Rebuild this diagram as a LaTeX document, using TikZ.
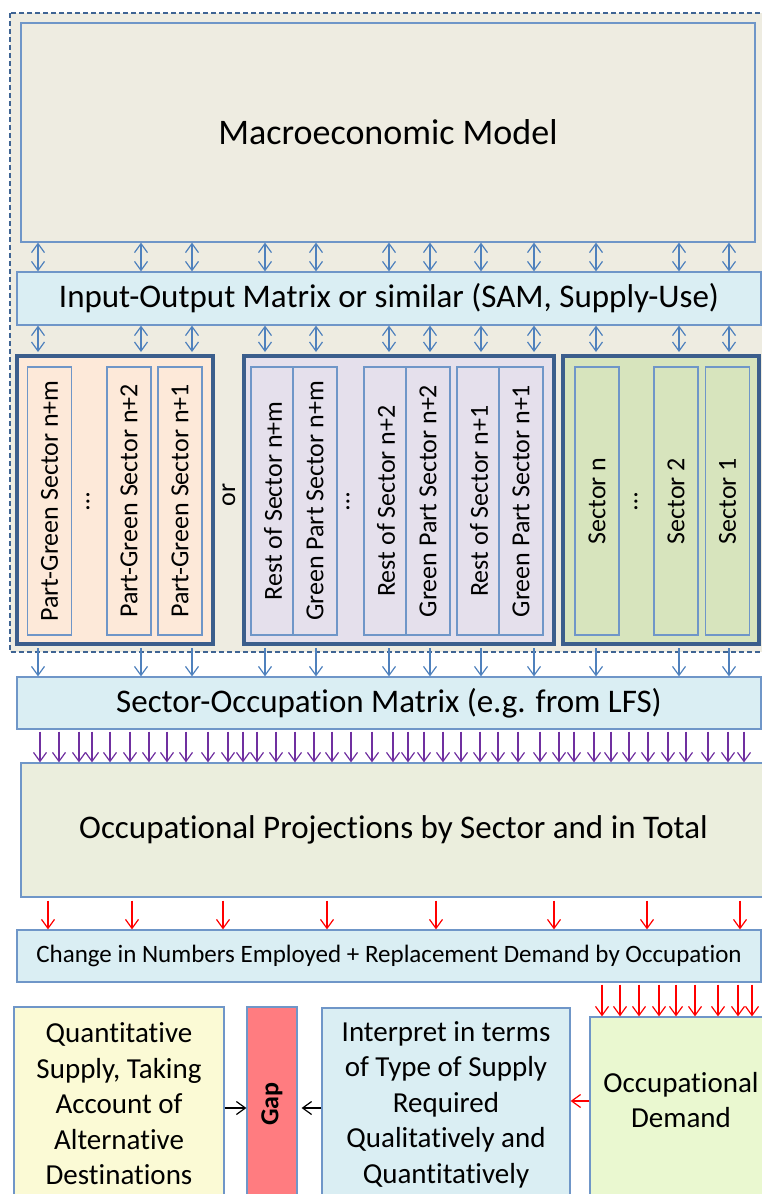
\documentclass[tikz,border=0pt]{standalone}
\usepackage{fontspec}
\setmainfont{Carlito}[Ligatures={NoCommon,NoRare,NoDiscretionary}]
\usetikzlibrary{arrows.meta}

\definecolor{framebg}{HTML}{EEECE1}
\definecolor{framedash}{HTML}{3F6493}
\definecolor{boxline}{HTML}{6F96C8}
\definecolor{groupline}{HTML}{3B5E8C}
\definecolor{iofill}{HTML}{DAEEF3}
\definecolor{peach}{HTML}{FDE9D9}
\definecolor{lavender}{HTML}{E5E0EC}
\definecolor{sage}{HTML}{D7E4BD}
\definecolor{projfill}{HTML}{EBEEDD}
\definecolor{quantfill}{HTML}{FBFAD5}
\definecolor{gapfill}{HTML}{FF7C80}
\definecolor{demandfill}{HTML}{EAF8D0}
\definecolor{arrowblue}{HTML}{4F81BD}
\definecolor{arrowpurple}{HTML}{7030A0}
\definecolor{arrowred}{HTML}{FF0000}

\tikzset{
  box/.style={draw=boxline, line width=1.2pt, inner sep=0pt, align=center},
  group/.style={draw=groupline, line width=4pt, inner sep=0pt},
  sectorcol/.style={box, rotate=90, minimum width=268, minimum height=44,
    font=\fontsize{26}{30}\selectfont},
  vdots/.style={rotate=90, inner sep=0pt, font=\fontsize{26}{30}\selectfont},
  bigtext/.style={font=\fontsize{33}{40}\selectfont},
  lowtext/.style={font=\fontsize{29}{35.5}\selectfont, align=center},
  blue arrow/.style={draw=arrowblue, line width=1.2pt},
  purple arrow/.style={draw=arrowpurple, line width=1.2pt, ->},
  red arrow/.style={draw=arrowred, line width=1.2pt, ->}
}

\begin{document}
\begin{tikzpicture}[x=1pt,y=-1pt,>={Straight Barb[length=9pt,width=13pt]}]
  \useasboundingbox (0,0) rectangle (762,1194);
  \clip (0,0) rectangle (762,1194);

  \draw[draw=framedash, fill=framebg, line width=2.4pt, dash pattern=on 5pt off 3pt]
    (10,13) rectangle (790,652);

  \node[box, fill=framebg, minimum width=734, minimum height=219,
    font=\fontsize{36}{42}\selectfont] (macro) at (388,132.5) {Macroeconomic Model};
  \node[box, fill=iofill, minimum width=744, minimum height=53, bigtext] (io)
    at (389,298.5) {Input-Output Matrix or similar (SAM, Supply-Use)};

  \node[group, fill=peach, minimum width=196, minimum height=288] (grpa) at (115,500) {};
  \node[group, fill=lavender, minimum width=310, minimum height=288] (grpb) at (399,500) {};
  \node[group, fill=sage, minimum width=196, minimum height=288] (grpc) at (661,500) {};

  \node[sectorcol, fill=peach] (pgm) at (49.5,501) {Part-Green Sector n+m};
  \node[vdots] (dotsa) at (88,502) {\ldots};
  \node[sectorcol, fill=peach] (pgtwo) at (129,501) {Part-Green Sector n+2};
  \node[sectorcol, fill=peach] (pgone) at (180,501) {Part-Green Sector n+1};

  \node[vdots] (or) at (229,495) {or};

  \node[sectorcol, fill=lavender] (restm) at (273,501) {Rest of Sector n+m};
  \node[sectorcol, fill=lavender] (greenm) at (315,501) {Green Part Sector n+m};
  \node[vdots] (dotsb) at (348,502) {\ldots};
  \node[sectorcol, fill=lavender] (resttwo) at (386,501) {Rest of Sector n+2};
  \node[sectorcol, fill=lavender] (greentwo) at (428,501) {Green Part Sector n+2};
  \node[sectorcol, fill=lavender] (restone) at (479,501) {Rest of Sector n+1};
  \node[sectorcol, fill=lavender] (greenone) at (521,501) {Green Part Sector n+1};

  \node[sectorcol, fill=sage] (secn) at (597,501) {Sector n};
  \node[vdots] (dotsc) at (636,502) {\ldots};
  \node[sectorcol, fill=sage] (sectwo) at (676,501) {Sector 2};
  \node[sectorcol, fill=sage] (secone) at (727.5,501) {Sector 1};

  \node[box, fill=iofill, minimum width=744, minimum height=52, bigtext] (socc)
    at (389,703) {Sector-Occupation Matrix (e.g. from LFS)};
  \node[box, fill=projfill, minimum width=745, minimum height=134, bigtext] (proj)
    at (393.5,830) {Occupational Projections by Sector and in Total};
  \node[box, fill=iofill, minimum width=744, minimum height=52,
    font=\fontsize{25}{30}\selectfont] (change)
    at (389,956) {Change in Numbers Employed + Replacement Demand by Occupation};

  \node[box, fill=quantfill, minimum width=210, minimum height=194, lowtext] (quant)
    at (119,1104) {Quantitative\\Supply, Taking\\Account of\\Alternative\\Destinations};
  \node[box, fill=gapfill, minimum width=194, minimum height=50, rotate=90,
    font=\fontsize{26}{30}\selectfont\bfseries] (gap) at (272,1104) {Gap};
  \node[box, fill=iofill, minimum width=248, minimum height=193, lowtext] (interp)
    at (446,1104.5) {Interpret in terms\\of Type of Supply\\Required\\Qualitatively and\\Quantitatively};
  \node[box, fill=demandfill, minimum width=182, minimum height=184,
    label={[lowtext, yshift=9pt]center:{Occupational\\Demand}}] (demand) at (681,1109) {};

  \foreach \x in {38,141,192,265,316,389,430,481,534,596,679,729}
    \draw[blue arrow, <->] (macro.south -| \x,0) -- (io.north -| \x,0);

  \foreach \x/\g in {38/grpa,141/grpa,192/grpa,265/grpb,316/grpb,389/grpb,
      430/grpb,481/grpb,534/grpb,596/grpc,679/grpc,729/grpc} {
    \draw[blue arrow, <->] (io.south -| \x,0) -- ([yshift=2pt]\g.north -| \x,0);
    \draw[blue arrow, ->] ([yshift=-2pt]\g.south -| \x,0) -- (socc.north -| \x,0);
  }

  \foreach \x in {40,59,79,92,110,130,149,167,186,208,228,243,257,276,295,314,
      332,351,372,393,408,424,443,461,480,498,518,540,559,574,594,611,629,648,
      668,686,708,728,744}
    \draw[purple arrow] ([yshift=-2pt]socc.south -| \x,0) -- (proj.north -| \x,0);

  \foreach \x in {48,132,223,327,436,554,647,740}
    \draw[red arrow] ([yshift=-3pt]proj.south -| \x,0) -- (change.north -| \x,0);

  \foreach \x in {602,620,639,659,676,695,718,738,752}
    \draw[red arrow] ([yshift=-2pt]change.south -| \x,0) -- (demand.north -| \x,0);

  \draw[line width=1.2pt, ->] (quant.east |- 0,1108) -- (gap.north |- 0,1108);
  \draw[line width=1.2pt, ->] (interp.west |- 0,1108) -- ([xshift=4pt]gap.south |- 0,1108);
  \draw[red arrow] (demand.west |- 0,1101) -- (interp.east |- 0,1101);
\end{tikzpicture}
\end{document}
